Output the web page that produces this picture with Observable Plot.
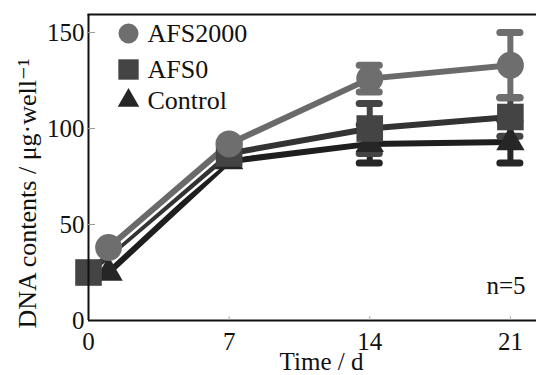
<!DOCTYPE html>
<html>
<head>
<meta charset="utf-8">
<script src="https://cdn.jsdelivr.net/npm/d3@7"></script>
<script src="https://cdn.jsdelivr.net/npm/@observablehq/plot@0.6"></script>
<style>
  html, body { margin: 0; padding: 0; background: #fff; }
  #chart { width: 536px; height: 375px; }
  #chart svg, #chart svg text { font-family: "Liberation Serif", "DejaVu Serif", serif !important; }
</style>
</head>
<body>
<div id="chart"></div>
<script>
// ---- data ----
const seriesNames = ["AFS2000", "AFS0", "Control"];
const daysAFS2000 = [1, 7, 14, 21];
const valsAFS2000 = [38, 92, 126, 133];
const errAFS2000  = [0, 0, 7, 17];
const daysAFS0    = [0, 7, 14, 21];
const valsAFS0    = [25, 87, 100, 106];
const errAFS0     = [0, 0, 13, 10];
const daysControl = [1, 7, 14, 21];
const valsControl = [25, 83, 92, 93];
const errControl  = [0, 0, 10, 11];
const xTicks = [0, 7, 14, 21];
const yTicks = [0, 50, 100, 150];
const xLabel = "Time / d";
const yLabel = "DNA contents / μg·well⁻¹";
const note = "n=5";

// ---- styles ----
const style = {
  AFS2000: {symbol: "circle", fill: "#6e6e6e", line: "#6a6a6a", r: 13.5, lr: 10},
  AFS0:    {symbol: "square", fill: "#444444", line: "#333333", r: 15, lr: 11.5},
  Control: {symbol: "triangle", fill: "#262626", line: "#1e1e1e", r: 10.5, lr: 8}
};

const src = {
  AFS2000: [daysAFS2000, valsAFS2000, errAFS2000],
  AFS0: [daysAFS0, valsAFS0, errAFS0],
  Control: [daysControl, valsControl, errControl]
};
const rows = [];
for (const s of seriesNames) {
  const [d, v, e] = src[s];
  d.forEach((t, i) => rows.push({series: s, t, v: v[i], e: e[i]}));
}
const font = "Liberation Serif, DejaVu Serif, serif";

const marks = [];
// lines (back to front: Control, AFS0, AFS2000)
for (const s of ["Control", "AFS0", "AFS2000"]) {
  const data = rows.filter(d => d.series === s);
  marks.push(Plot.line(data, {x: "t", y: "v", stroke: "white", strokeWidth: 11}));
  marks.push(Plot.line(data, {x: "t", y: "v", stroke: style[s].line, strokeWidth: 6}));
}
// error bars
for (const s of ["Control", "AFS0", "AFS2000"]) {
  const data = rows.filter(d => d.series === s && d.e > 0);
  const c = style[s].fill;
  marks.push(Plot.ruleX(data, {x: "t", y1: d => d.v - d.e, y2: d => d.v + d.e, stroke: c, strokeWidth: 6}));
  marks.push(Plot.ruleY(data, {y: d => d.v + d.e, x1: d => d.t - 0.5, x2: d => d.t + 0.5, stroke: c, strokeWidth: 7, strokeLinecap: "round"}));
  marks.push(Plot.ruleY(data, {y: d => d.v - d.e, x1: d => d.t - 0.5, x2: d => d.t + 0.5, stroke: c, strokeWidth: 7, strokeLinecap: "round"}));
}
// markers
for (const s of ["Control", "AFS0", "AFS2000"]) {
  const data = rows.filter(d => d.series === s);
  marks.push(Plot.dot(data, {x: "t", y: "v", symbol: style[s].symbol, r: style[s].r, fill: style[s].fill, stroke: "none"}));
}
// frame (left, bottom, top)
marks.push(Plot.ruleX([0], {stroke: "#111", strokeWidth: 2}));
marks.push(Plot.ruleY([0], {stroke: "#111", strokeWidth: 2}));
marks.push(Plot.frame({anchor: "top", stroke: "#111", strokeWidth: 2}));
// inward ticks
marks.push(Plot.ruleY(yTicks.filter(v => v > 0), {y: d => d, x1: 0, x2: 0.35, stroke: "#999", strokeWidth: 1}));
marks.push(Plot.ruleX(xTicks.filter(v => v > 0), {x: d => d, y1: 0, y2: 2, stroke: "#aaa", strokeWidth: 1}));
// axes
marks.push(Plot.axisY(yTicks, {tickSize: 0, tickPadding: 4, fontSize: 25, fontFamily: font, label: null}));
marks.push(Plot.axisX(xTicks, {tickSize: 0, tickPadding: 12, fontSize: 25, fontFamily: font, label: null}));
// axis titles
marks.push(Plot.text([yLabel], {frameAnchor: "left", rotate: -90, textAnchor: "middle", lineAnchor: "middle", dx: -61, dy: 26, fontSize: 26, fontFamily: font, fill: "#111"}));
marks.push(Plot.text([xLabel], {frameAnchor: "bottom", textAnchor: "middle", lineAnchor: "middle", dx: 9, dy: 41, fontSize: 25, fontFamily: font, fill: "#111"}));
// n=5
marks.push(Plot.text([note], {frameAnchor: "bottom-right", textAnchor: "end", lineAnchor: "middle", dx: -11, dy: -35, fontSize: 25, fontFamily: font, fill: "#111"}));
// legend
seriesNames.forEach((s, i) => {
  const dy = [19, 55, 86][i];
  marks.push(Plot.dot([s], {frameAnchor: "top-left", dx: 40, dy, symbol: style[s].symbol, r: style[s].lr, fill: style[s].fill}));
  marks.push(Plot.text([s], {frameAnchor: "top-left", dx: 59, dy, textAnchor: "start", lineAnchor: "middle", fontSize: 26, fontFamily: font, fill: "#111"}));
});

const chart = Plot.plot({
  width: 536,
  height: 375,
  marginLeft: 88,
  marginRight: 0,
  marginTop: 14,
  marginBottom: 55,
  x: {domain: [0, 22.3]},
  y: {domain: [0, 159.4]},
  style: {fontFamily: font, fontSize: "25px", color: "#111", background: "#fff"},
  marks
});
document.getElementById("chart").appendChild(chart);
</script>
</body>
</html>
